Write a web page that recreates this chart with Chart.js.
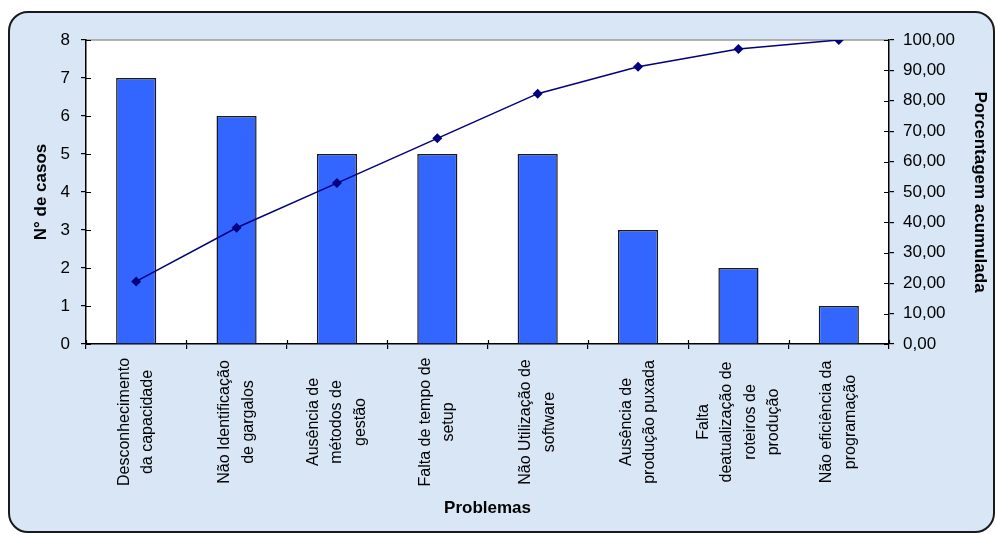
<!DOCTYPE html>
<html>
<head>
<meta charset="utf-8">
<script src="https://cdn.jsdelivr.net/npm/chart.js@4/dist/chart.umd.min.js"></script>
<style>
  html, body { margin: 0; padding: 0; background: #fff; }
  #wrap { position: relative; width: 996px; height: 534px; overflow: hidden; }
  #frame {
    position: absolute; left: 8px; top: 11px; width: 983px; height: 518px;
    border: 2px solid #1a1a1a; border-radius: 20px;
    background: #d9e6f5;
  }
  #chart { position: absolute; left: 0; top: 0; }
</style>
</head>
<body>
<div id="wrap">
  <div id="frame"></div>
  <canvas id="chart" width="996" height="534"></canvas>
</div>
<script>
  // ---------- data ----------
  const categories = [
    ["Desconhecimento", "da capacidade"],
    ["Não Identificação", "de gargalos"],
    ["Ausência de", "métodos de", "gestão"],
    ["Falta de tempo de", "setup"],
    ["Não Utilização de", "software"],
    ["Ausência de", "produção puxada"],
    ["Falta", "deatualização de", "roteiros de", "produção"],
    ["Não eficiência da", "programação"],
  ];
  const casos = [7, 6, 5, 5, 5, 3, 2, 1];
  const acumulada = [20.59, 38.24, 52.94, 67.65, 82.35, 91.18, 97.06, 100.0];
  const leftTicks = [0, 1, 2, 3, 4, 5, 6, 7, 8];
  const rightTicks = [0, 10, 20, 30, 40, 50, 60, 70, 80, 90, 100];

  const FONT = "'Liberation Sans', Arial, sans-serif";

  // white plot area + gray top edge, inner tick halves, centred multi-line category labels
  const paretoDecor = {
    id: "paretoDecor",
    beforeDraw(chart) {
      const a = chart.chartArea;
      const ctx = chart.ctx;
      ctx.save();
      ctx.fillStyle = "#ffffff";
      ctx.fillRect(a.left, a.top, a.right - a.left, a.bottom - a.top);
      ctx.strokeStyle = "#9a9a9a";
      ctx.lineWidth = 1.5;
      ctx.beginPath();
      ctx.moveTo(a.left, a.top);
      ctx.lineTo(a.right, a.top);
      ctx.stroke();
      ctx.restore();
    },
    afterDraw(chart) {
      const ctx = chart.ctx;
      const a = chart.chartArea;
      const xs = chart.scales.x;
      const yl = chart.scales.y;
      const yr = chart.scales.y1;

      // tick marks crossing into the plot, like the original
      ctx.save();
      ctx.strokeStyle = "#000";
      ctx.lineWidth = 1.2;
      ctx.beginPath();
      leftTicks.forEach(function (v) {
        const y = Math.round(yl.getPixelForValue(v)) + 0.5;
        ctx.moveTo(a.left, y);
        ctx.lineTo(a.left + 5, y);
      });
      rightTicks.forEach(function (v) {
        const y = Math.round(yr.getPixelForValue(v)) + 0.5;
        ctx.moveTo(a.right - 5, y);
        ctx.lineTo(a.right, y);
      });
      for (let i = 0; i <= categories.length; i++) {
        const x = Math.round(xs.getPixelForTick(Math.min(i, categories.length - 1)) +
          (i === categories.length ? 0.5 : -0.5) * (xs.width / categories.length)) + 0.5;
        ctx.moveTo(x, a.bottom - 4);
        ctx.lineTo(x, a.bottom);
      }
      ctx.stroke();
      ctx.restore();

      ctx.save();
      ctx.font = "16px " + FONT;
      ctx.fillStyle = "#000";
      ctx.textAlign = "center";
      ctx.textBaseline = "middle";
      categories.forEach(function (lines, i) {
        const x = xs.getPixelForValue(i);
        lines.forEach(function (line, j) {
          const dx = (j - (lines.length - 1) / 2) * 23.5;
          ctx.save();
          ctx.translate(x + dx, 422);
          ctx.rotate(-Math.PI / 2);
          ctx.fillText(line, 0, 0);
          ctx.restore();
        });
      });
      ctx.restore();
    },
  };

  function fmtPct(v) {
    return v.toFixed(2).replace(".", ",");
  }

  new Chart(document.getElementById("chart"), {
    data: {
      labels: categories,
      datasets: [
        {
          type: "line",
          label: "Porcentagem acumulada",
          data: acumulada,
          yAxisID: "y1",
          borderColor: "#000080",
          backgroundColor: "#000080",
          borderWidth: 1.5,
          pointStyle: "rectRot",
          pointRadius: 5,
          pointBorderWidth: 0,
          tension: 0,
          order: 0,
        },
        {
          type: "bar",
          label: "N° de casos",
          data: casos,
          yAxisID: "y",
          backgroundColor: "#3366ff",
          borderColor: "#1a1a1a",
          borderWidth: 1.5,
          categoryPercentage: 0.8,
          barPercentage: 0.5,
          order: 1,
        },
      ],
    },
    options: {
      responsive: false,
      animation: false,
      layout: { padding: { top: 40, left: 0, right: 0, bottom: 0 } },
      plugins: {
        legend: { display: false },
        tooltip: { enabled: false },
      },
      scales: {
        x: {
          offset: true,
          afterFit: function (s) { s.height = 190; },
          grid: { drawOnChartArea: false, offset: true, tickLength: 5, color: "#000", lineWidth: 1.2 },
          border: { color: "#000", width: 1.5 },
          ticks: { display: false },
          title: {
            display: true,
            text: "Problemas",
            color: "#000",
            font: { family: FONT, size: 17, weight: "bold" },
            padding: { top: 0, bottom: 15 },
          },
        },
        y: {
          position: "left",
          min: 0,
          max: 8,
          afterFit: function (s) { s.width = 86; },
          afterBuildTicks: function (s) { s.ticks = leftTicks.map(function (v) { return { value: v }; }); },
          grid: { drawOnChartArea: false, tickLength: 5, color: "#000", lineWidth: 1.2 },
          border: { color: "#000", width: 1.5 },
          ticks: {
            color: "#000",
            padding: 11,
            font: { family: FONT, size: 17 },
          },
          title: {
            display: true,
            text: "N° de casos",
            color: "#000",
            font: { family: FONT, size: 17, weight: "bold" },
            padding: { top: 31, bottom: 0 },
          },
        },
        y1: {
          position: "right",
          min: 0,
          max: 100,
          afterFit: function (s) { s.width = 107; },
          afterBuildTicks: function (s) { s.ticks = rightTicks.map(function (v) { return { value: v }; }); },
          grid: { drawOnChartArea: false, tickLength: 5, color: "#000", lineWidth: 1.2 },
          border: { color: "#000", width: 1.5 },
          ticks: {
            color: "#000",
            padding: 9,
            font: { family: FONT, size: 17 },
            callback: function (v) { return fmtPct(v); },
          },
          title: {
            display: true,
            text: "Porcentagem acumulada",
            color: "#000",
            font: { family: FONT, size: 17, weight: "bold" },
            padding: { top: 6, bottom: 0 },
          },
        },
      },
    },
    plugins: [paretoDecor],
  });
</script>
</body>
</html>
